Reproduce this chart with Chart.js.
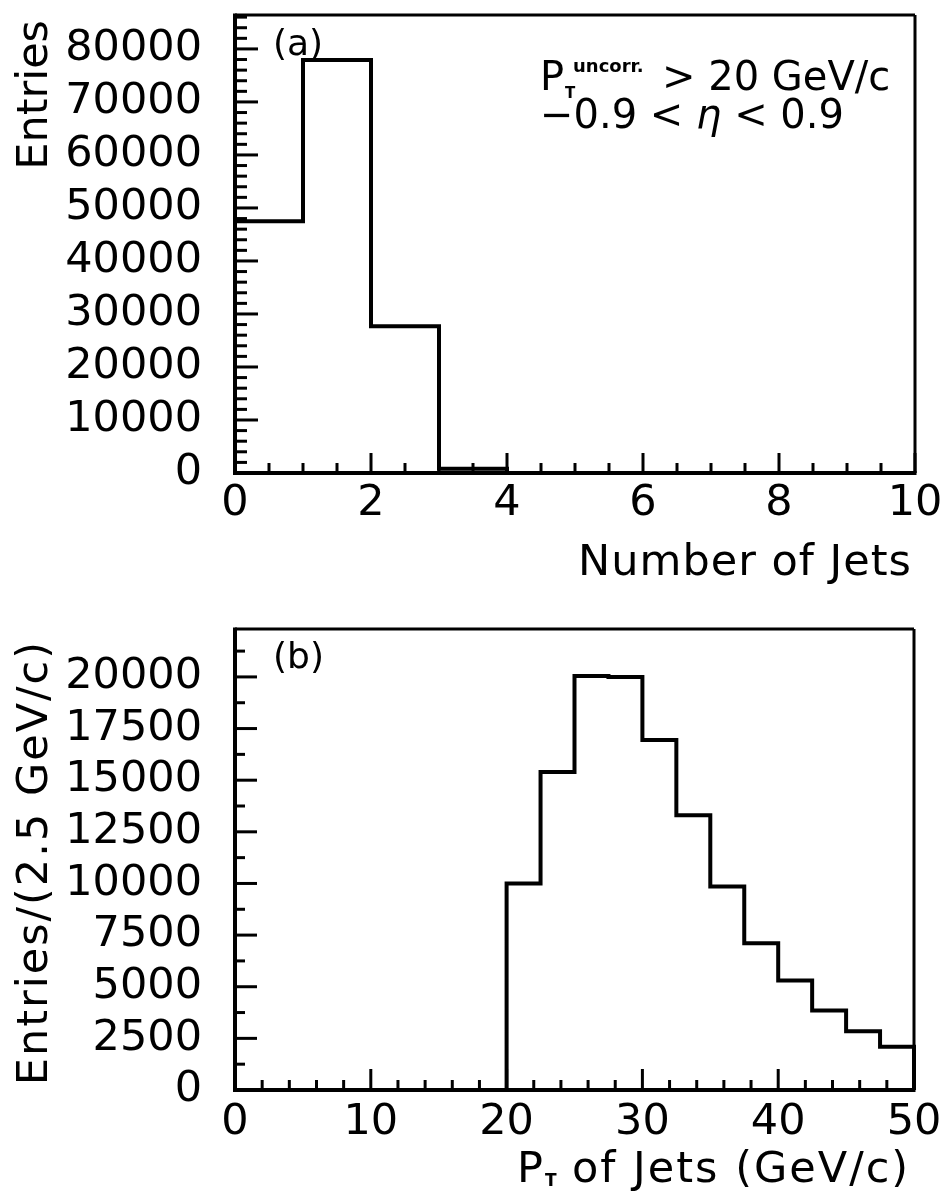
<!DOCTYPE html>
<html>
<head>
<meta charset="utf-8">
<script src="https://cdn.jsdelivr.net/npm/chart.js@4.4.1/dist/chart.umd.min.js"></script>
<style>
  html, body { margin: 0; padding: 0; background: #fff; }
  #wrap { position: relative; width: 947px; height: 1202px; overflow: hidden; }
  canvas { position: absolute; left: 0; }
  #c1 { top: 0; }
  #c2 { top: 600px; }
</style>
</head>
<body>
<div id="wrap">
  <canvas id="c1" width="947" height="600"></canvas>
  <canvas id="c2" width="947" height="602"></canvas>
</div>
<script>
// ---------- Panel (a): number of jets ----------
const jetBinEdges = [0, 1, 2, 3, 4, 5, 6, 7, 8, 9, 10];
const jetCounts   = [47500, 77900, 27700, 800, 0, 0, 0, 0, 0, 0];
const jetXTicks   = [0, 2, 4, 6, 8, 10];
const jetYTicks   = [0, 10000, 20000, 30000, 40000, 50000, 60000, 70000, 80000];
const jetXMinorStep = 0.5;
const jetYMinorStep = 2000;
const jetXRange = [0, 10];
const jetYRange = [0, 86400];

// ---------- Panel (b): jet pT ----------
const ptBinEdges = [20, 22.5, 25, 27.5, 30, 32.5, 35, 37.5, 40, 42.5, 45, 47.5, 50];
const ptCounts   = [10000, 15400, 20050, 20000, 16950, 13300, 9850, 7100, 5300, 3850, 2850, 2100];
const ptXTicks   = [0, 10, 20, 30, 40, 50];
const ptYTicks   = [0, 2500, 5000, 7500, 10000, 12500, 15000, 17500, 20000];
const ptXMinorStep = 2;
const ptYMinorStep = 1250;
const ptXRange = [0, 50];
const ptYRange = [0, 22320];

const FONT = 'DejaVu Sans';

function histPoints(edges, counts) {
  const pts = [{x: edges[0], y: 0}];
  counts.forEach((c, i) => {
    pts.push({x: edges[i], y: c});
    pts.push({x: edges[i + 1], y: c});
  });
  pts.push({x: edges[edges.length - 1], y: 0});
  return pts;
}

function steps(min, max, step) {
  const out = [];
  for (let v = min; v <= max + 1e-9; v += step) out.push(v);
  return out;
}

function runs(ctx, x, y, parts) {
  let cx = x;
  parts.forEach(p => {
    ctx.font = p.font;
    ctx.fillText(p.t, cx + (p.dx || 0), y + (p.dy || 0));
    cx += (p.dx || 0) + ctx.measureText(p.t).width;
  });
}

const frameTicks = {
  id: 'frameTicks',
  afterDraw(chart, args, o) {
    const {ctx, chartArea: a, scales: {x, y}} = chart;
    ctx.save();
    ctx.strokeStyle = '#000';
    ctx.fillStyle = '#000';
    ctx.lineCap = 'butt';
    ctx.lineWidth = 3;
    const seg = (x1, y1, x2, y2) => { ctx.beginPath(); ctx.moveTo(x1, y1); ctx.lineTo(x2, y2); ctx.stroke(); };
    steps(o.xRange[0], o.xRange[1], o.xMinor).forEach(v => {
      const px = x.getPixelForValue(v);
      const major = o.xMajor.some(m => Math.abs(m - v) < 1e-9);
      seg(px, a.bottom, px, a.bottom - (major ? o.xMajorLen : o.xMinorLen));
    });
    steps(o.yRange[0], o.yRange[1], o.yMinor).forEach(v => {
      const py = y.getPixelForValue(v);
      const major = o.yMajor.some(m => Math.abs(m - v) < 1e-9);
      seg(a.left, py, a.left + (major ? o.yMajorLen : o.yMinorLen), py);
    });
    // frame
    ctx.lineWidth = 3;
    seg(a.left, a.top, a.right, a.top);
    seg(a.right, a.top, a.right, a.bottom);
    ctx.lineWidth = 4;
    seg(a.left, a.top - 1.5, a.left, a.bottom + 2);
    seg(a.left - 2, a.bottom, a.right + 1.5, a.bottom);
    if (o.draw) o.draw(ctx, a);
    ctx.restore();
  }
};

function makeChart(id, edges, counts, xr, yr, xt, yt, xMinor, yMinor, pad, xH, xPad, extra) {
  return new Chart(document.getElementById(id), {
    type: 'line',
    data: { datasets: [{
      data: histPoints(edges, counts),
      borderColor: '#000', borderWidth: 4, pointRadius: 0, fill: false, tension: 0,
      borderJoinStyle: 'miter', clip: 4
    }]},
    options: {
      responsive: false, animation: false, devicePixelRatio: 1,
      layout: { padding: pad },
      plugins: {
        legend: { display: false }, tooltip: { enabled: false },
        frameTicks: Object.assign({
          xRange: xr, yRange: yr, xMajor: xt, yMajor: yt, xMinor: xMinor, yMinor: yMinor
        }, extra)
      },
      scales: {
        x: {
          type: 'linear', min: xr[0], max: xr[1],
          afterBuildTicks: s => { s.ticks = xt.map(v => ({value: v})); },
          afterFit: s => { s.height = xH; s.paddingLeft = 0; s.paddingRight = 0; },
          grid: { display: false, drawTicks: false }, border: { display: false },
          ticks: { color: '#000', font: { family: FONT, size: 43 }, padding: xPad, maxRotation: 0, autoSkip: false,
                   callback: v => String(v) }
        },
        y: {
          type: 'linear', min: yr[0], max: yr[1],
          afterBuildTicks: s => { s.ticks = yt.map(v => ({value: v})); },
          afterFit: s => { s.width = 235; s.paddingTop = 0; s.paddingBottom = 0; },
          grid: { display: false, drawTicks: false }, border: { display: false },
          ticks: { color: '#000', font: { family: FONT, size: 43 }, padding: 33, autoSkip: false,
                   callback: v => String(v) }
        }
      }
    },
    plugins: [frameTicks]
  });
}

makeChart('c1', jetBinEdges, jetCounts, jetXRange, jetYRange, jetXTicks, jetYTicks,
  jetXMinorStep, jetYMinorStep, {top: 15, right: 32, left: 0, bottom: 0}, 127, 5, {
    xMajorLen: 20, xMinorLen: 10, yMajorLen: 23, yMinorLen: 12,
    draw(ctx, a) {
      ctx.textBaseline = 'alphabetic';
      ctx.textAlign = 'left';
      ctx.font = '36px ' + FONT;
      ctx.fillText('(a)', 273, 55);
      // annotation
      ctx.font = '40px ' + FONT;
      ctx.fillText('P', 540, 90);
      ctx.font = 'bold 15px ' + FONT;
      ctx.fillText('T', 565, 98);
      ctx.font = 'bold 18px ' + FONT;
      ctx.fillText('uncorr.', 573, 72);
      ctx.font = '40px ' + FONT;
      ctx.fillText('> 20 GeV/c', 662, 90);
      runs(ctx, 540, 128, [
        {t: '\u22120.9 < ', font: '40px ' + FONT},
        {t: '\u03b7', font: 'italic 40px ' + FONT},
        {t: ' < 0.9', font: '40px ' + FONT}
      ]);
      // axis titles
      ctx.font = '43px ' + FONT;
      ctx.textAlign = 'right';
      ctx.letterSpacing = '1px';
      ctx.fillText('Number of Jets', 912, 575);
      ctx.letterSpacing = '0px';
      ctx.save();
      ctx.translate(47, 20);
      ctx.rotate(-Math.PI / 2);
      ctx.fillText('Entries', 0, 0);
      ctx.restore();
    }
  });

makeChart('c2', ptBinEdges, ptCounts, ptXRange, ptYRange, ptXTicks, ptYTicks,
  ptXMinorStep, ptYMinorStep, {top: 29, right: 33, left: 0, bottom: 0}, 112, 7, {
    xMajorLen: 21, xMinorLen: 10, yMajorLen: 22, yMinorLen: 10,
    draw(ctx, a) {
      ctx.textBaseline = 'alphabetic';
      ctx.textAlign = 'left';
      ctx.font = '36px ' + FONT;
      ctx.fillText('(b)', 273, 68);
      ctx.font = '43px ' + FONT;
      ctx.fillText('P', 517, 582);
      ctx.font = 'bold 17px ' + FONT;
      ctx.fillText('T', 545, 586);
      ctx.font = '43px ' + FONT;
      ctx.letterSpacing = '2px';
      ctx.fillText('of Jets (GeV/c)', 572, 582);
      ctx.textAlign = 'right';
      ctx.save();
      ctx.translate(47, 40);
      ctx.rotate(-Math.PI / 2);
      ctx.fillText('Entries/(2.5 GeV/c)', 0, 0);
      ctx.restore();
      ctx.letterSpacing = '0px';
    }
  });
</script>
</body>
</html>
